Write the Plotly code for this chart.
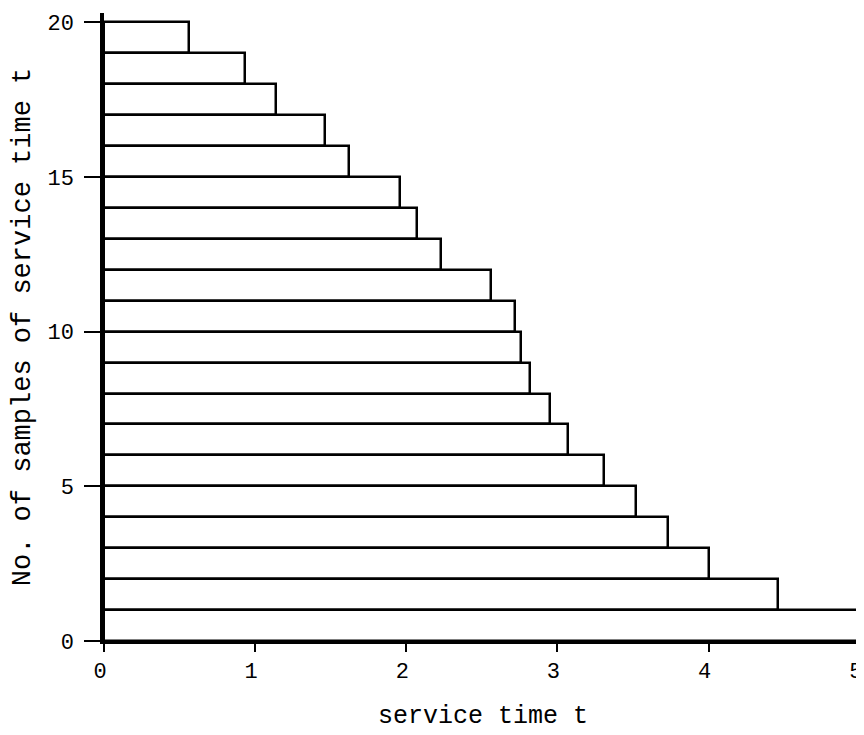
import plotly.graph_objects as go

# Sample level k (bar spans k-1 .. k) and service time t at which it ends
levels = list(range(1, 21))
service_times = [5.01, 4.46, 4.00, 3.73, 3.52, 3.31, 3.07, 2.95, 2.82, 2.76,
                 2.72, 2.56, 2.23, 2.07, 1.96, 1.62, 1.46, 1.14, 0.93, 0.56]
x_ticks = [0, 1, 2, 3, 4, 5]
y_ticks = [0, 5, 10, 15, 20]

FONT = "Liberation Mono"

fig = go.Figure()
fig.add_trace(go.Bar(
    x=service_times,
    y=levels,
    orientation="h",
    width=1,
    offset=-1,
    base=0,
    marker=dict(color="rgba(255,255,255,0)", line=dict(color="black", width=2.5)),
    showlegend=False,
    hoverinfo="x+y",
    cliponaxis=False,
))

# the page body adds an 8px margin, so the figure is sized to the remaining area
fig.update_layout(
    width=856, height=727,
    paper_bgcolor="white", plot_bgcolor="white",
    margin=dict(l=96, r=2, t=5, b=94),
    bargap=0,
    font=dict(family=FONT, color="black"),
)
fig.update_xaxes(
    range=[0, 5.015], showline=True, linewidth=3, linecolor="black",
    showgrid=False, zeroline=False, automargin=False,
    tickvals=x_ticks, ticks="outside", ticklen=8, tickwidth=2, tickcolor="black",
    tickfont=dict(family=FONT, size=22), ticklabelshift=-4,
    title=dict(text="service time t", font=dict(family=FONT, size=25), standoff=22),
)
fig.update_yaxes(
    range=[0, 20.3], showline=True, linewidth=3.5, linecolor="black",
    showgrid=False, zeroline=False, automargin=False,
    tickvals=y_ticks, ticks="outside", ticklen=16, tickwidth=2, tickcolor="black",
    tickfont=dict(family=FONT, size=22), ticklabelstandoff=6,
    title=dict(text="No. of samples of service time t", font=dict(family=FONT, size=27), standoff=16),
)

fig.write_html("out.html")
